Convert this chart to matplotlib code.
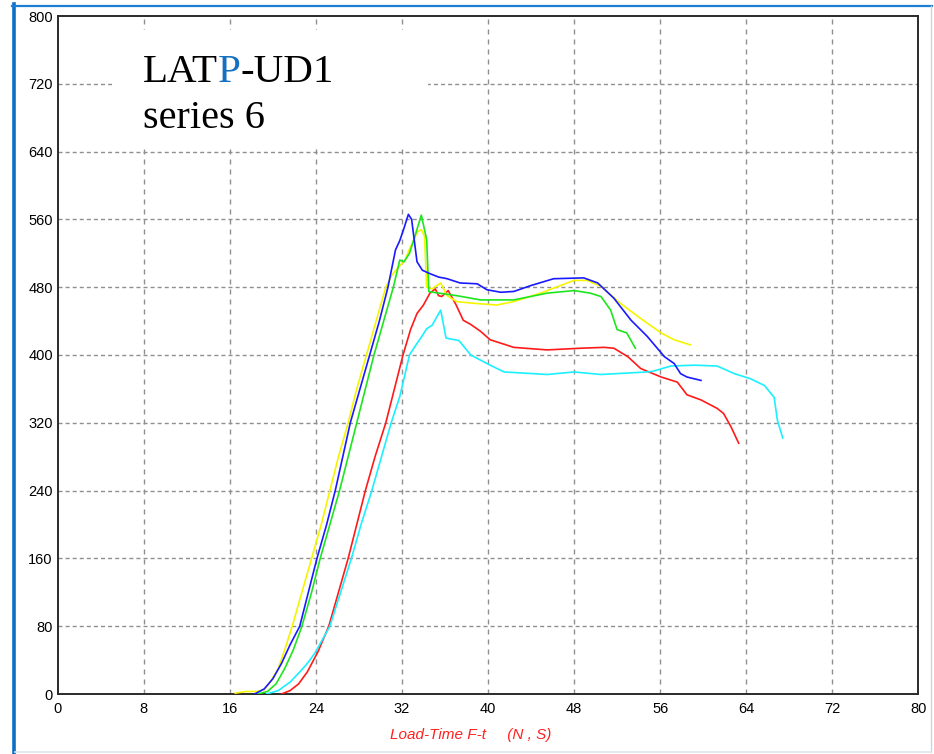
import matplotlib
matplotlib.use("Agg")
import matplotlib.pyplot as plt
from matplotlib.patches import Rectangle
from matplotlib.lines import Line2D

plt.rcParams['lines.scale_dashes'] = False

# ---- data (time s, load N) ----
blue_t = [18.3, 19.2, 20.0, 20.8, 21.6, 22.5, 23.3, 24.1, 25.0, 25.8,
          26.5, 27.2, 28.1, 29.0, 29.9, 30.7, 31.4, 31.8, 32.2, 32.6,
          32.9, 33.1, 33.4, 33.9, 34.6, 35.4, 36.2, 37.4, 39.0, 39.9,
          41.2, 42.4, 44.0, 46.1, 48.9, 50.2, 51.7, 53.3, 54.8, 56.4,
          57.3, 57.9, 58.5, 59.8]
blue_f = [0, 6, 18, 36, 58, 80, 120, 160, 200, 240,
          280, 320, 360, 400, 440, 480, 524, 535, 550, 566,
          560, 540, 510, 500, 496, 492, 490, 485, 484, 477,
          474, 475, 482, 490, 491, 485, 467, 441, 422, 398,
          390, 378, 374, 370]

yellow_t = [16.5, 17.5, 18.5, 19.2, 19.8, 20.5, 21.1, 21.8, 22.7, 23.6,
            24.5, 25.3, 26.1, 27.0, 27.8, 28.7, 29.6, 30.5, 31.1, 31.7,
            32.3, 32.7, 33.1, 33.4, 33.8, 34.1, 34.3, 34.8, 35.6, 36.2,
            37.1, 38.7, 40.8, 42.4, 44.9, 48.0, 49.2, 50.5, 52.3, 54.2,
            56.1, 57.3, 58.8]
yellow_f = [1, 3, 3, 5, 15, 30, 52, 80, 120, 160,
            200, 240, 280, 320, 360, 400, 440, 480, 495, 504,
            512, 525, 535, 545, 548, 540, 480, 478, 485, 470,
            463, 461, 459, 463, 473, 488, 488, 481, 461, 443,
            426, 418, 412]

green_t = [18.6, 19.5, 20.3, 21.1, 21.9, 22.7, 23.6, 24.4, 25.3, 26.2,
           27.0, 27.8, 28.6, 29.4, 30.3, 31.2, 31.8, 32.2, 32.7, 33.2,
           33.8, 34.3, 34.4, 34.5, 34.9, 37.1, 39.3, 42.4, 45.5, 48.0,
           49.5, 50.5, 51.4, 52.0, 52.9, 53.7]
green_f = [0, 3, 12, 30, 52, 80, 120, 160, 200, 240,
           280, 320, 360, 400, 440, 480, 512, 510, 520, 540,
           565, 536, 504, 475, 474, 470, 465, 465, 473, 476,
           473, 469, 453, 430, 426, 408]

red_t = [20.8, 21.6, 22.4, 23.2, 24.2, 25.2, 26.1, 27.0, 27.8, 28.6,
         29.5, 30.5, 31.3, 32.1, 32.8, 33.4, 34.0, 34.6, 35.1, 35.4,
         35.7, 36.3, 37.0, 37.7, 38.4, 39.3, 40.2, 42.4, 45.5, 48.6,
         50.8, 51.7, 53.0, 54.2, 56.1, 57.6, 58.5, 59.8, 61.3, 61.9,
         62.6, 63.3]
red_f = [0, 4, 12, 26, 50, 80, 120, 160, 200, 240,
         280, 320, 360, 400, 430, 449, 459, 473, 478, 470,
         469, 476, 460, 441, 436, 428, 418, 409, 406, 408,
         409, 408, 398, 384, 374, 368, 353, 347, 337, 331,
         315, 296]

cyan_t = [19.4, 20.5, 21.6, 22.5, 23.2, 23.9, 24.6, 25.3, 26.3, 27.3,
          28.2, 29.2, 30.1, 31.0, 31.8, 32.7, 33.2, 33.8, 34.3, 34.8,
          35.6, 36.1, 37.3, 38.4, 40.2, 41.5, 45.5, 48.0, 50.5, 54.8,
          55.4, 57.0, 59.2, 61.3, 62.9, 64.4, 65.7, 66.6, 66.9, 67.4]
cyan_f = [0, 4, 14, 26, 36, 48, 64, 80, 120, 160,
          200, 240, 280, 320, 351, 400, 410, 421, 431, 435,
          453, 420, 417, 400, 388, 380, 377, 380, 377, 380,
          381, 387, 388, 387, 378, 372, 364, 350, 323, 302]

x_ticks = list(range(0, 81, 8))
y_ticks = list(range(0, 801, 80))

W, H = 934, 754
fig = plt.figure(figsize=(W / 100, H / 100), dpi=100)
fig.patch.set_facecolor('white')

ax = fig.add_axes([57.7 / W, (H - 694) / H, (918.3 - 57.7) / W, (694 - 16) / H])
ax.set_xlim(0, 80)
ax.set_ylim(0, 800)
ax.set_xticks(x_ticks)
ax.set_yticks(y_ticks)
ax.set_xticklabels([str(v) for v in x_ticks])
ax.set_yticklabels([str(v) for v in y_ticks])
ax.tick_params(axis='both', length=0, labelsize=10.5)
ax.tick_params(axis='x', pad=5.5)
ax.tick_params(axis='y', pad=3.5)
for lab in ax.get_xticklabels() + ax.get_yticklabels():
    lab.set_family(['Liberation Sans', 'DejaVu Sans'])

for s in ax.spines.values():
    s.set_color('#2a2a2a')
    s.set_linewidth(1.4)

# grid
for xv in x_ticks[1:-1]:
    ax.axvline(xv, color='#8f8f8f', lw=1.0, dashes=(3.6, 3.6), zorder=1)
for yv in y_ticks[1:-1]:
    ax.axhline(yv, color='#8f8f8f', lw=1.0, dashes=(2.9, 2.2), zorder=1)

# white box behind the title
ax.add_patch(Rectangle((0.063, 0.805), 0.367, 0.174, transform=ax.transAxes,
                       facecolor='white', edgecolor='none', zorder=2))

lw = 1.2
ax.plot(red_t, red_f, color='#ff1a1a', lw=lw, zorder=3)
ax.plot(cyan_t, cyan_f, color='#1af0ff', lw=lw, zorder=3)
ax.plot(yellow_t, yellow_f, color='#f5f500', lw=lw, zorder=4)
ax.plot(green_t, green_f, color='#1ee61e', lw=lw, zorder=4)
ax.plot(blue_t, blue_f, color='#1a1aff', lw=lw, zorder=5)

# title text
serif = ['Liberation Serif', 'DejaVu Serif']
tsize = 29.5
t1 = fig.text(143 / W, (H - 82) / H, 'LAT', fontsize=tsize, family=serif,
              color='black', va='baseline', ha='left')
t2 = ax.annotate('P', xy=(1, 0), xycoords=t1, fontsize=tsize, family=serif,
                 color='#1670c0', va='bottom', ha='left', annotation_clip=False)
t3 = ax.annotate('-UD1', xy=(1, 0), xycoords=t2, fontsize=tsize, family=serif,
                 color='black', va='bottom', ha='left', annotation_clip=False)
fig.text(143 / W, (H - 128) / H, 'series 6', fontsize=29, family=serif,
         color='black', va='baseline', ha='left')

# x label
fig.text(471 / W, (H - 735) / H, 'Load-Time F-t     (N , S)', fontsize=11,
         style='italic', color='#ff2020', family=['Liberation Sans', 'DejaVu Sans'],
         ha='center', va='center')

# window border
fig.add_artist(Line2D([13.5 / W, 13.5 / W], [0, (H - 4) / H], color='#0b6fc6', lw=2.6,
                      transform=fig.transFigure))
fig.add_artist(Line2D([12 / W, 932 / W], [(H - 5.5) / H, (H - 5.5) / H], color='#1c7ed4',
                      lw=1.6, transform=fig.transFigure))
fig.add_artist(Line2D([930.5 / W, 930.5 / W], [(H - 752) / H, (H - 6) / H], color='#d0d4da',
                      lw=1.0, transform=fig.transFigure))
fig.add_artist(Line2D([15 / W, 931 / W], [(H - 752) / H, (H - 752) / H], color='#dce6f0',
                      lw=1.2, transform=fig.transFigure))

fig.savefig('out.png', dpi=100, facecolor='white')
